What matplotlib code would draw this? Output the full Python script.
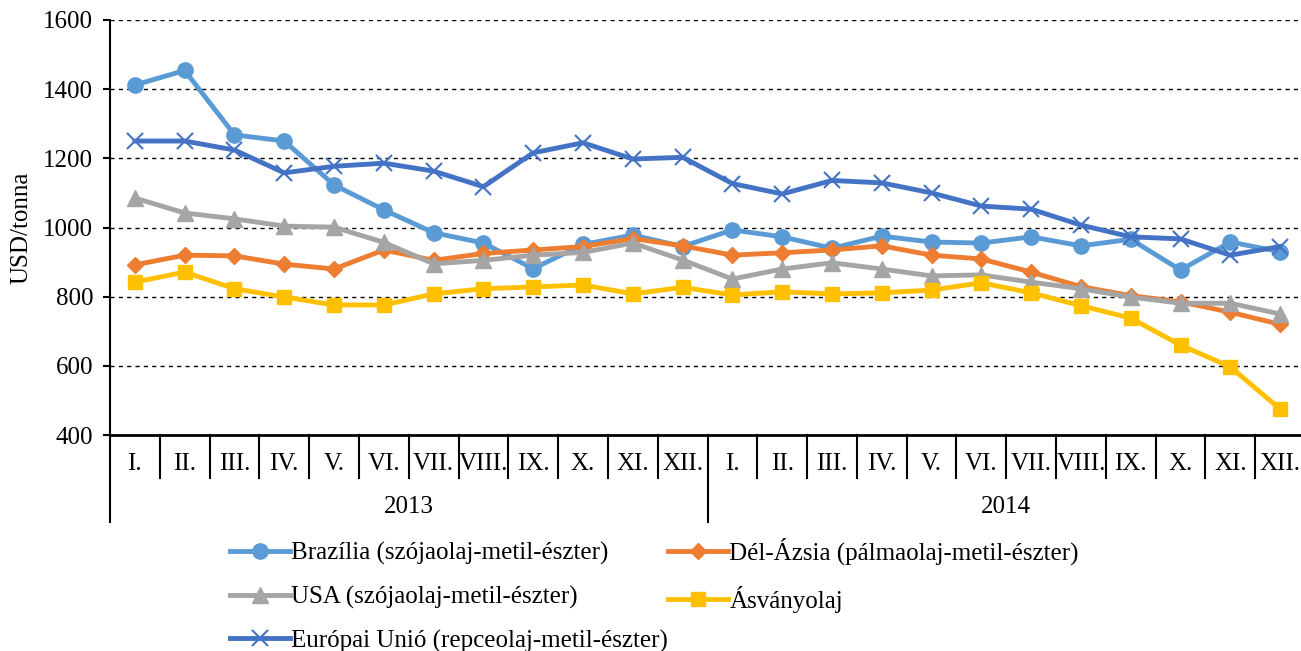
import numpy as np
import matplotlib.pyplot as plt
from matplotlib.transforms import blended_transform_factory

plt.rcParams['font.family'] = ['Liberation Serif', 'DejaVu Serif']

months = ["I.", "II.", "III.", "IV.", "V.", "VI.", "VII.", "VIII.", "IX.", "X.", "XI.", "XII."]
years = ["2013", "2014"]

brazil = [1412, 1454, 1268, 1250, 1123, 1051, 985, 955, 881, 951, 978, 945,
          993, 973, 940, 975, 958, 955, 973, 947, 966, 877, 958, 930]
del_azsia = [892, 920, 918, 894, 880, 935, 905, 925, 935, 945, 968, 947,
             920, 927, 935, 947, 920, 909, 871, 829, 803, 785, 755, 720]
usa = [1085, 1042, 1025, 1004, 1001, 957, 895, 905, 920, 928, 955, 906,
       851, 880, 898, 880, 860, 863, 842, 823, 799, 781, 781, 750]
asvanyolaj = [842, 871, 823, 799, 776, 776, 808, 823, 828, 834, 808, 827,
              805, 814, 808, 811, 819, 840, 811, 774, 738, 660, 597, 475]
eu = [1250, 1250, 1224, 1158, 1177, 1186, 1163, 1118, 1216, 1245, 1198, 1203,
      1127, 1097, 1136, 1129, 1100, 1062, 1053, 1007, 973, 967, 920, 945]

fs = 18

fig = plt.figure(figsize=(13.01, 6.51), dpi=100)
ax = fig.add_axes([110 / 1301, 1 - 435 / 651, 1195 / 1301, 415 / 651])

x = np.arange(len(brazil))
lw = 3.5
l1, = ax.plot(x, brazil, color="#5B9BD5", lw=lw, marker="o", ms=11,
              label="Brazília (szójaolaj-metil-észter)")
l2, = ax.plot(x, del_azsia, color="#ED7D31", lw=lw, marker="D", ms=8,
              label="Dél-Ázsia (pálmaolaj-metil-észter)")
l3, = ax.plot(x, usa, color="#A5A5A5", lw=lw, marker="^", ms=11,
              label="USA (szójaolaj-metil-észter)")
l4, = ax.plot(x, asvanyolaj, color="#FFC000", lw=lw, marker="s", ms=10,
              label="Ásványolaj")
l5, = ax.plot(x, eu, color="#4472C4", lw=lw, marker="x", ms=11, mew=1.5,
              label="Európai Unió (repceolaj-metil-észter)")

ax.set_xlim(-0.5, len(brazil) - 0.5)
ax.set_ylim(400, 1600)
ax.set_yticks(np.arange(400, 1601, 200))
ax.tick_params(axis="y", labelsize=fs, length=5, width=1.5, direction="out", pad=7)
ax.set_xticks([])
for v in range(600, 1601, 200):
    ax.axhline(v, color="black", lw=1, ls=(0, (3, 3)), zorder=0)

for s in ["top", "right"]:
    ax.spines[s].set_visible(False)
ax.spines["left"].set_linewidth(1.5)
ax.spines["bottom"].set_linewidth(2)
ax.set_ylabel("USD/tonna", fontsize=fs, labelpad=8)

# two-level category axis
trans = blended_transform_factory(ax.transData, ax.transAxes)
for k in range(len(brazil) + 1):
    xs = k - 0.5
    long_line = k % 12 == 0
    y_end = -87 / 415 if long_line else -43 / 415
    ax.plot([xs, xs], [0, y_end], transform=trans, color="black", lw=1.5,
            clip_on=False)
for i in range(len(brazil)):
    ax.text(i, -29 / 415, months[i % 12], transform=trans, ha="center",
            va="center", fontsize=fs)
for j, yr in enumerate(years):
    ax.text(j * 12 + 5.5, -72 / 415, yr, transform=trans, ha="center",
            va="center", fontsize=fs)

handles = [l1, l3, l5, l2, l4]
fig.legend(handles=handles, labels=[h.get_label() for h in handles], ncol=2,
           loc="upper left", bbox_to_anchor=(230 / 1301, 1 - 538 / 651),
           frameon=False, fontsize=fs, handlelength=2.4, handletextpad=0.05,
           columnspacing=0.0, labelspacing=0.82, borderaxespad=0,
           borderpad=0)

fig.savefig("out.png", dpi=100)
